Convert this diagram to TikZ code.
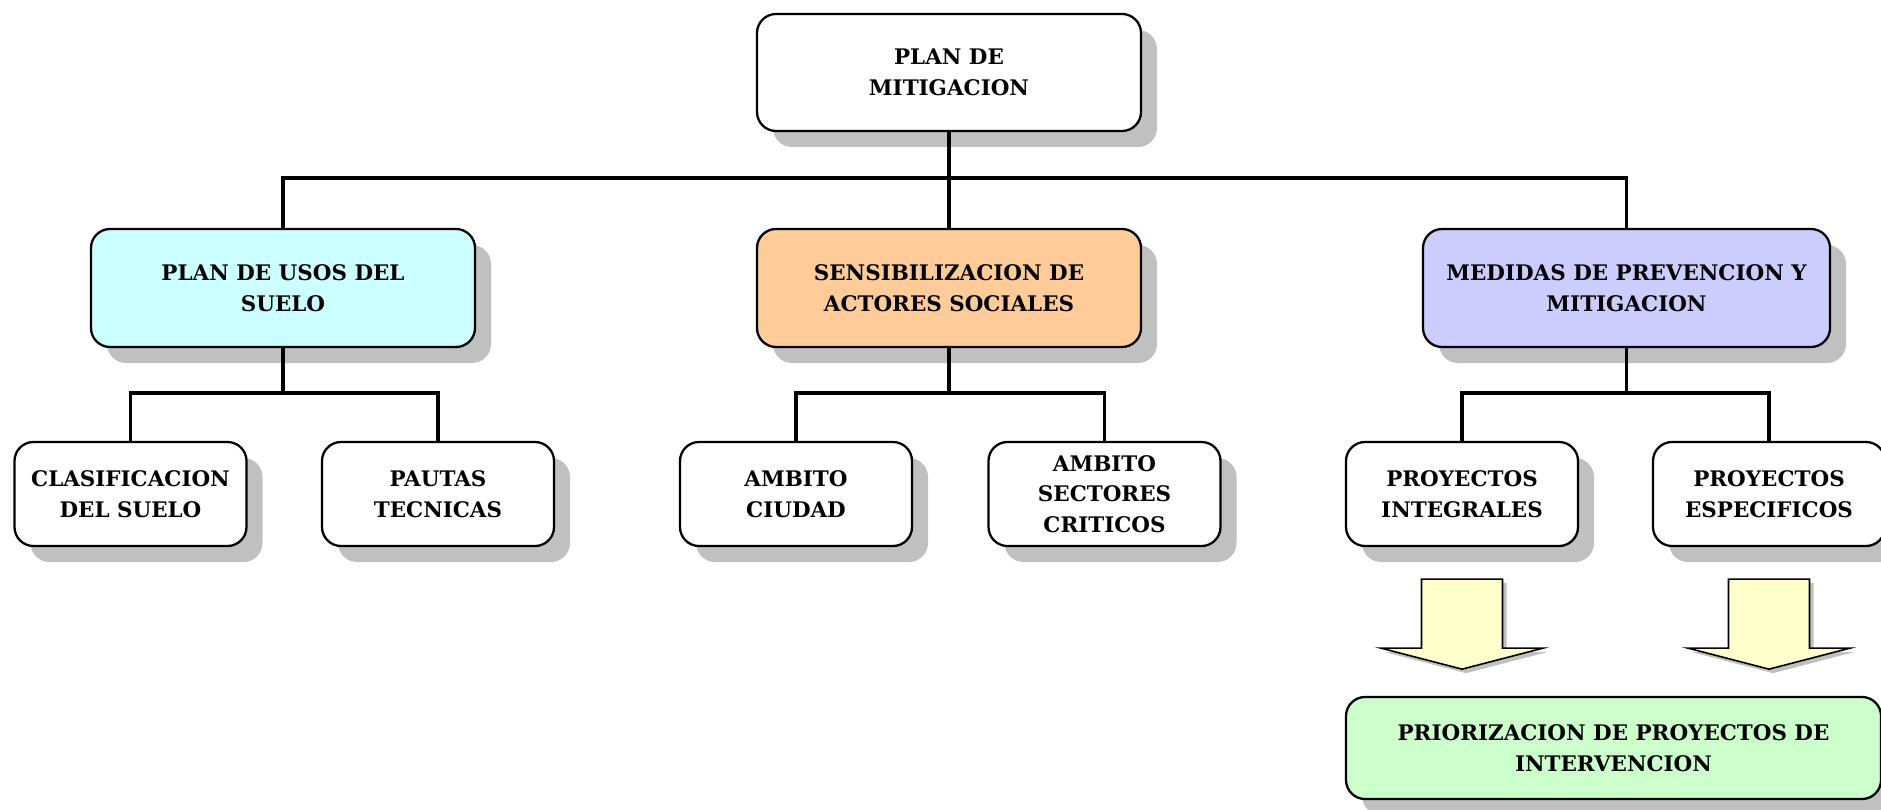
\documentclass[tikz,border=0pt]{standalone}
\usepackage{fontspec}
\setmainfont{DejaVu Serif}
\usetikzlibrary{calc,shadows}
\definecolor{celeste}{HTML}{CCFFFF}
\definecolor{naranja}{HTML}{FFCC99}
\definecolor{lila}{HTML}{CCCCFF}
\definecolor{crema}{HTML}{FFFFCC}
\definecolor{verde}{HTML}{CCFFCC}
\definecolor{sombra}{HTML}{C0C0C0}
\tikzset{
  caja/.style={draw=black,line width=1.3pt,rounded corners=0.38cm,fill=white,align=center,
    font=\bfseries\fontsize{12.2}{17.5}\selectfont,minimum width=#1,
    drop shadow={shadow xshift=0.32cm,shadow yshift=-0.32cm,fill=sombra,opacity=1}},
  link/.style={line width=2.1pt,black},
  flecha/.style={draw=black,line width=0.9pt,fill=crema,
    drop shadow={shadow xshift=0.08cm,shadow yshift=-0.08cm,fill=sombra,opacity=1}},
}

\begin{document}
\begin{tikzpicture}
\useasboundingbox (0,0) rectangle (37.62,-16.2);
\tikzset{
  jefe/.style={caja=7.68cm,minimum height=2.36cm},
  hoja/.style={caja=4.64cm,minimum height=2.08cm},
}
\node[jefe,minimum height=2.34cm] (top) at (18.98,-1.45) {PLAN DE\\MITIGACION};
\node[jefe,fill=celeste] (uso)  at (5.66,-5.76)  {PLAN DE USOS DEL\\SUELO};
\node[jefe,fill=naranja] (sens) at (18.98,-5.76) {SENSIBILIZACION DE\\ACTORES SOCIALES};
\node[jefe,fill=lila,minimum width=8.14cm] (med) at (32.53,-5.76) {MEDIDAS DE PREVENCION Y\\MITIGACION};
\node[hoja] (clas)  at (2.61,-9.88)  {CLASIFICACION\\DEL SUELO};
\node[hoja] (paut)  at (8.76,-9.88)  {PAUTAS\\TECNICAS};
\node[hoja] (ciud)  at (15.92,-9.88) {AMBITO\\CIUDAD};
\node[hoja] (sect)  at (22.09,-9.88) {AMBITO\\SECTORES\\CRITICOS};
\node[hoja] (integ) at (29.24,-9.88) {PROYECTOS\\INTEGRALES};
\node[hoja] (espec) at (35.38,-9.88) {PROYECTOS\\ESPECIFICOS};
\node[caja=10.7cm,minimum height=2.04cm,fill=verde] (prior) at (32.27,-14.96)
  {PRIORIZACION DE PROYECTOS DE\\INTERVENCION};
\draw[link] (top.south) -- (sens.north);
\draw[link] (uso.north) -- ++(0,1) -| (med.north);
\draw[link] (uso.south) -- ++(0,-0.94);
\draw[link] (clas.north) -- ++(0,0.96) -| (paut.north);
\draw[link] (sens.south) -- ++(0,-0.94);
\draw[link] (ciud.north) -- ++(0,0.96) -| (sect.north);
\draw[link] (med.south) -- ++(0,-0.94);
\draw[link] (integ.north) -- ++(0,0.96) -| (espec.north);
\foreach \n in {integ,espec}
  \path[flecha] ($(\n.south)+(-0.81,-0.64)$) -- ++(1.62,0) -- ++(0,-1.38) -- ++(0.81,0)
    -- ($(\n.south)+(0,-2.44)$) -- ($(\n.south)+(-1.62,-2.02)$) -- ++(0.81,0) -- cycle;
\end{tikzpicture}
\end{document}
